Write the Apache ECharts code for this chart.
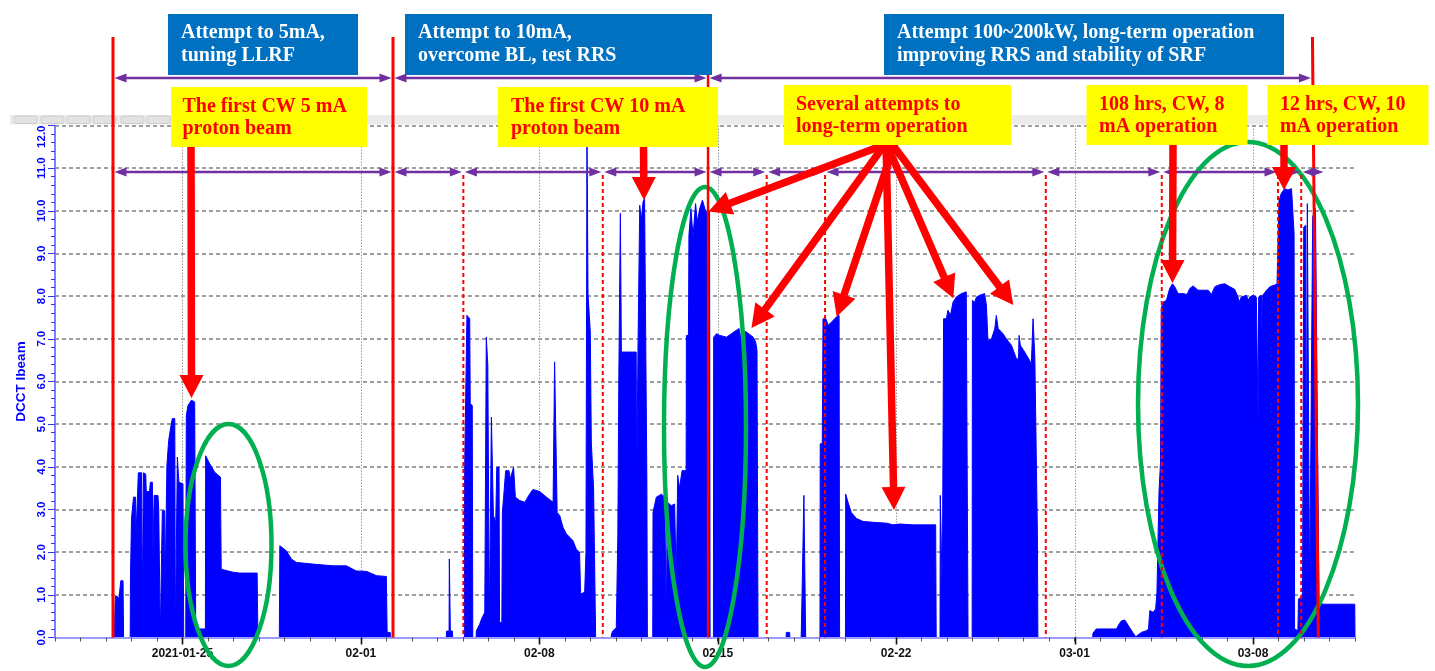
<!DOCTYPE html>
<html>
<head>
<meta charset="utf-8">
<script src="https://cdn.jsdelivr.net/npm/echarts@6/dist/echarts.min.js"></script>
<style>html,body{margin:0;padding:0;background:#fff;}#c{width:1435px;height:671px;}</style>
</head>
<body>
<div id="c"></div>
<script>
// ---------------- DATA (days since 2021-01-20 00:00, DCCT beam current in mA) ----------------
const xTickDays   = [5, 12, 19, 26, 33, 40, 47];
const xTickLabels = ['2021-01-25', '02-01', '02-08', '02-15', '02-22', '03-01', '03-08'];

const runJan22 = [[2.33,0],[2.35,0.65],[2.37,0.98],[2.47,0.95],[2.51,0.90],[2.56,0.92],[2.58,1.33],[2.67,1.33],[2.69,0]];
const runJan23 = [[2.95,0],[2.96,1.37],[2.99,1.37],[3.00,2.78],[3.06,2.78],[3.08,3.29],[3.16,3.29],[3.18,2.39],[3.25,2.39],
  [3.27,3.86],[3.40,3.86],[3.42,0.47],[3.45,0.47],[3.47,3.86],[3.56,3.83],[3.58,3.42],[3.71,3.42],[3.74,3.64],[3.82,3.64],
  [3.84,1.88],[3.87,1.88],[3.89,3.33],[4.04,3.33],[4.07,3.01],[4.12,3.01],[4.13,0],[4.20,0],[4.21,2.97],[4.30,2.97],
  [4.32,1.21],[4.36,1.21],[4.39,4.03],[4.44,4.03],[4.46,4.62],[4.52,4.85],[4.60,5.13],[4.70,5.13],[4.72,0],[4.78,0],
  [4.80,4.23],[4.84,4.23],[4.86,3.64],[5.02,3.60],[5.05,0],[5.13,0],[5.15,5.20],[5.22,5.44],[5.35,5.56],[5.48,5.52],
  [5.52,0.20],[5.90,0.20],[5.91,4.26],[6.07,4.07],[6.27,3.87],[6.49,3.76],[6.52,1.60],[6.98,1.53],[7.25,1.51],[7.93,1.51],[7.96,0]];
const runJan28 = [[8.80,0],[8.82,2.15],[9.08,2.03],[9.27,1.84],[9.47,1.76],[10.12,1.72],[10.91,1.68],[11.43,1.68],[11.82,1.56],
  [12.22,1.55],[12.61,1.45],[13.00,1.43],[13.03,0.12],[13.15,0.12],[13.16,0]];
const runFeb04 = [[15.35,0],[15.36,0.15],[15.46,0.15],[15.47,1.84],[15.50,1.84],[15.51,0.15],[15.59,0.15],[15.60,0]];
const runFeb05 = [[16.06,0],[16.07,3.95],[16.14,3.95],[16.16,7.55],[16.27,7.47],[16.29,5.48],[16.37,5.44],[16.39,0]];
const runFeb05b = [[16.52,0],[16.53,0.16],[16.66,0.31],[16.73,0.43],[16.86,0.59],[16.90,0.59],[16.92,7.04],[16.96,7.04],
  [16.98,6.38],[17.01,3.40],[17.04,0.27],[17.10,0.27],[17.12,5.16],[17.19,5.16],[17.20,2.86],[17.29,2.70],[17.33,3.99],
  [17.42,3.99],[17.44,0.35],[17.53,0.35],[17.55,2.93],[17.60,3.29],[17.68,3.91],[17.81,3.91],[17.86,3.72],[17.99,3.99],
  [18.02,3.99],[18.06,3.29],[18.23,3.21],[18.43,3.17],[18.62,3.36],[18.75,3.47],[19.02,3.42],[19.28,3.29],[19.54,3.17],
  [19.59,3.17],[19.60,6.46],[19.67,6.46],[19.70,2.93],[19.80,2.86],[19.93,2.58],[20.06,2.43],[20.32,2.27],[20.45,2.07],
  [20.58,2.00],[20.62,1.02],[20.78,1.06],[20.83,2.00],[20.86,2.00],[20.87,11.9],[20.89,11.9],[20.91,8.06],[21.00,7.16],
  [21.04,4.58],[21.13,3.48],[21.19,3.48],[21.21,0]];
const runFeb10 = [[21.82,0],[21.83,0.08],[21.89,0.16],[22.02,0.23],[22.08,2.39],[22.12,6.14],[22.16,6.14],[22.18,9.94],
  [22.20,9.94],[22.22,6.69],[22.80,6.69],[22.82,3.40],[22.85,3.40],[22.87,6.73],[22.92,6.73],[22.94,10.13],[22.98,10.13],
  [23.00,9.78],[23.04,9.78],[23.07,10.21],[23.13,10.29],[23.20,10.25],[23.22,3.64],[23.24,0]];
const runFeb12 = [[23.45,0],[23.46,2.93],[23.59,3.29],[23.79,3.36],[23.92,3.29],[23.96,3.29],[23.98,0.35],[24.00,0.35],
  [24.02,3.17],[24.18,3.09],[24.31,3.13],[24.36,3.13],[24.37,1.29],[24.42,1.29],[24.43,3.80],[24.47,3.80],[24.50,3.50],
  [24.60,3.91],[24.76,3.91],[24.77,7.08],[24.85,7.08],[24.87,9.43],[24.95,10.05],[25.03,9.39],[25.13,10.17],[25.20,9.74],
  [25.29,10.05],[25.40,10.25],[25.45,10.21],[25.53,9.98],[25.68,9.98],[25.70,0]];
const runFeb14 = [[25.83,0],[25.84,7.04],[25.95,7.12],[26.08,7.08],[26.34,7.04],[26.54,7.12],[26.73,7.20],[26.84,7.24],
  [26.87,6.96],[26.90,6.96],[26.93,7.20],[27.12,7.16],[27.39,7.04],[27.49,6.92],[27.54,6.73],[27.57,6.73],[27.58,0]];
const runFeb17 = [[28.68,0],[28.69,0.12],[28.75,0.16],[28.82,0.12],[28.83,0]];
const runFeb18 = [[29.27,0],[29.28,0.16],[29.35,0.20],[29.37,0.20],[29.38,3.33],[29.43,3.33],[29.45,0]];
const runFeb19 = [[30.01,0],[30.02,4.54],[30.10,4.54],[30.13,7.47],[30.24,7.47],[30.33,7.32],[30.46,7.39],[30.65,7.51],
  [30.76,7.55],[30.78,0]];
const runFeb20 = [[31.01,0],[31.02,3.36],[31.11,3.17],[31.24,2.93],[31.44,2.79],[31.70,2.72],[32.09,2.70],[32.62,2.68],
  [32.88,2.64],[33.14,2.66],[33.66,2.64],[34.55,2.64],[34.57,0]];
const runFeb23 = [[34.72,0],[34.73,3.33],[34.80,3.33],[34.81,1.0],[34.85,1.0],[34.86,7.47],[34.97,7.47],[35.03,7.67],
  [35.13,7.55],[35.23,7.86],[35.36,7.98],[35.56,8.06],[35.75,8.10],[35.80,8.10],[35.82,0]];
const runFeb24 = [[35.98,0],[35.99,7.90],[36.08,7.86],[36.15,7.98],[36.28,8.02],[36.47,8.06],[36.54,7.79],[36.60,6.96],
  [36.74,7.00],[36.87,7.24],[36.93,7.55],[37.00,7.24],[37.19,7.12],[37.32,7.00],[37.52,6.85],[37.72,6.53],[37.80,6.53],
  [37.82,7.08],[37.87,6.85],[38.04,6.69],[38.24,6.49],[38.30,6.38],[38.36,6.38],[38.37,7.47],[38.42,7.47],[38.44,6.57],
  [38.50,6.57],[38.54,2.46],[38.56,0]];
const runMar01 = [[40.71,0],[40.72,0.10],[40.85,0.20],[41.64,0.20],[41.76,0.33],[41.84,0.39],[41.97,0.41],[42.16,0.23],
  [42.30,0.10],[42.40,0.02],[42.62,0.12],[42.82,0.16],[42.90,0.20],[42.95,0.63],[43.08,0.59],[43.18,0.67],[43.23,1.06],
  [43.31,3.40],[43.37,4.11],[43.40,7.71],[43.47,7.86],[43.60,7.90],[43.73,8.18],[43.84,8.29],[43.93,8.22],[44.06,8.06],
  [44.25,8.06],[44.41,8.04],[44.52,8.18],[44.65,8.24],[44.84,8.14],[45.04,8.14],[45.24,8.14],[45.37,8.04],[45.50,8.22],
  [45.69,8.27],[45.89,8.29],[46.09,8.22],[46.28,8.16],[46.41,7.98],[46.45,7.86],[46.54,7.98],[46.74,8.02],[46.81,7.90],
  [46.87,7.98],[47.00,8.02],[47.13,7.98],[47.18,7.98],[47.20,5.05],[47.22,7.98],[47.33,8.02],[47.36,6.73],[47.38,8.02],
  [47.42,8.06],[47.53,8.14],[47.66,8.22],[47.85,8.26],[47.94,8.29],[48.00,8.29],[48.02,10.25],[48.11,10.41],[48.24,10.52],
  [48.37,10.49],[48.51,10.52],[48.57,10.52],[48.61,9.47],[48.63,0.20],[48.70,0.16],[48.76,0.16],[48.78,0.90],[48.86,0.94],
  [48.94,0.98],[48.97,0.98],[48.99,9.62],[49.07,9.66],[49.08,0.80],[49.12,0.80],[49.13,10.17],[49.20,10.13],[49.22,0.90],
  [49.29,0.90],[49.34,9.86],[49.45,10.05],[49.49,10.05],[49.51,5.83],[49.56,5.83],[49.59,0.82],[49.62,0.78],[49.75,0.78],
  [50.99,0.78],[51.00,0]];

// event lines (days since 2021-01-20)
const phaseLineTopDays    = [2.275, 13.26, 25.62, 49.33];
const phaseLineBottomDays = [2.275, 13.26, 25.62, 49.56];
const eventLineDays = [16.02, 21.49, 27.92, 30.21, 38.87, 43.42, 47.98, 48.89];
const row2EndDay = 49.82;

const phaseTexts = ['Attempt to 5mA,\ntuning LLRF', 'Attempt to 10mA,\novercome BL, test RRS',
  'Attempt 100~200kW, long-term operation\nimproving RRS and stability of SRF'];
const noteTexts = ['The first CW 5 mA\nproton beam', 'The first CW 10 mA\nproton beam', 'Several attempts to\nlong-term operation',
  '108 hrs, CW, 8\nmA operation', '12 hrs, CW, 10\nmA operation'];

// ---------------- CHART ----------------
const runs = [runJan22, runJan23, runJan28, runFeb04, runFeb05, runFeb05b, runFeb10, runFeb12, runFeb14,
  runFeb17, runFeb18, runFeb19, runFeb20, runFeb23, runFeb24, runMar01];
const beamData = [];
runs.forEach(r => { r.forEach(p => beamData.push(p)); beamData.push([r[r.length - 1][0] + 0.001, '-']); });

const chart = echarts.init(document.getElementById('c'), null, {renderer: 'canvas'});
const AX = 'Liberation Sans, Arial, sans-serif';
chart.setOption({
  animation: false,
  backgroundColor: '#ffffff',
  grid: {left: 55, right: 80, top: 125.5, bottom: 33.5, containLabel: false},
  xAxis: {
    type: 'value', min: 0, max: 51, interval: 1, z: 3,
    axisLine: {show: true, onZero: false, lineStyle: {color: '#9a9aff', width: 2}},
    axisTick: {show: true, length: 4, lineStyle: {color: '#555555', width: 1}},
    axisLabel: {
      interval: 0, margin: 10, color: '#111111', fontWeight: 'bold', fontSize: 12, fontFamily: AX,
      formatter: v => { const r = Math.round(v); const i = xTickDays.indexOf(r); return (Math.abs(v - r) < 1e-6 && i >= 0) ? xTickLabels[i] : ''; }
    },
    splitLine: {show: false}
  },
  yAxis: {
    type: 'value', min: 0, max: 12, interval: 1,
    name: 'DCCT Ibeam', nameLocation: 'middle', nameGap: 14,
    nameTextStyle: {color: '#0000ff', fontWeight: 'bold', fontSize: 13.5, fontFamily: AX},
    axisLine: {show: true, lineStyle: {color: '#7f7fff', width: 2}},
    axisTick: {show: true, length: 7, lineStyle: {color: '#3333ff', width: 1}},
    minorTick: {show: true, splitNumber: 5, length: 4, lineStyle: {color: '#3333ff', width: 1}},
    axisLabel: {rotate: 90, margin: 7, color: '#0000ff', fontWeight: 'bold', fontSize: 11.5, fontFamily: AX,
      alignMaxLabel: 'right', formatter: v => v.toFixed(1)},
    splitLine: {show: true, lineStyle: {color: '#808080', width: 1.5, type: [4, 3]}}
  },
  series: [{
    type: 'line', data: beamData, showSymbol: false, symbol: 'none', connectNulls: false, z: 2, silent: true,
    lineStyle: {color: '#0000ff', width: 1}, areaStyle: {color: '#0000ff', opacity: 1}
  }]
});

// ---------------- ANNOTATIONS ----------------
const X = d => chart.convertToPixel({gridIndex: 0}, [d, 0])[0];
const Y = v => chart.convertToPixel({gridIndex: 0}, [0, v])[1];
const base = Y(0), top12 = Y(12);
const el = [];
const RED = '#ff0000', PURPLE = '#7030a0', GREEN = '#00b050', BLUEBOX = '#0070c0', YEL = '#ffff00';
const SERIF = 'bold 20px "Liberation Serif", "Times New Roman", serif';

// weekly dotted gridlines + major ticks
xTickDays.forEach(d => {
  const x = Math.round(X(d)) + 0.5;
  el.push({type: 'line', z: 0, silent: true, shape: {x1: x, y1: top12, x2: x, y2: base}, style: {stroke: '#9a9a9a', lineWidth: 1, lineDash: [1.5, 1.5]}});
  el.push({type: 'line', z: 50, silent: true, shape: {x1: x, y1: base, x2: x, y2: base + 7}, style: {stroke: '#111111', lineWidth: 1.6}});
});

// toolbar strip of the original screenshot
el.push({type: 'rect', z: 4, silent: true, shape: {x: 10, y: 115, width: 1385, height: 9.5}, style: {fill: '#ebebeb'}});
[14, 41, 67, 93, 121, 147].forEach(bx => el.push({type: 'rect', z: 4, silent: true,
  shape: {x: bx, y: 116, width: 23, height: 7.5, r: 2}, style: {fill: '#e2e2e2', stroke: '#cdcdcd', lineWidth: 1}}));

// green ellipses
[[228.5, 545, 43, 121], [705, 427, 41, 240], [1248, 404, 110, 262]].forEach(e => el.push({type: 'ellipse', z: 10, silent: true,
  shape: {cx: e[0], cy: e[1], rx: e[2], ry: e[3]}, style: {fill: 'none', stroke: GREEN, lineWidth: 4.5}}));

// red solid phase lines
const phaseTops = [37, 37, 75, 37];
phaseLineTopDays.forEach((d, i) => el.push({type: 'line', z: 12, silent: true,
  shape: {x1: X(d), y1: phaseTops[i], x2: X(phaseLineBottomDays[i]), y2: base}, style: {stroke: RED, lineWidth: i === 2 ? 2.5 : 3}}));
// red dashed event lines
eventLineDays.forEach(d => el.push({type: 'line', z: 12, silent: true,
  shape: {x1: X(d), y1: 175, x2: X(d), y2: base}, style: {stroke: RED, lineWidth: 2, lineDash: [4, 3]}}));

// purple double arrows
function dArrow(xa, xb, y) {
  const hl = 12, hh = 4.5; xa += 1.5; xb -= 1.5;
  if (xb - xa > 2 * hl) el.push({type: 'line', z: 14, silent: true, shape: {x1: xa + hl - 1, y1: y, x2: xb - hl + 1, y2: y}, style: {stroke: PURPLE, lineWidth: 2.5}});
  el.push({type: 'polygon', z: 14, silent: true, shape: {points: [[xa, y], [xa + hl, y - hh], [xa + hl, y + hh]]}, style: {fill: PURPLE}});
  el.push({type: 'polygon', z: 14, silent: true, shape: {points: [[xb, y], [xb - hl, y - hh], [xb - hl, y + hh]]}, style: {fill: PURPLE}});
}
for (let i = 0; i < phaseLineTopDays.length - 1; i++) dArrow(X(phaseLineTopDays[i]), X(phaseLineTopDays[i + 1]), 78);
const row2 = [phaseLineTopDays[0], phaseLineTopDays[1], eventLineDays[0], eventLineDays[1], phaseLineTopDays[2],
  eventLineDays[2], eventLineDays[3], eventLineDays[4], eventLineDays[5], eventLineDays[6], eventLineDays[7], row2EndDay];
for (let i = 0; i < row2.length - 1; i++) dArrow(X(row2[i]), X(row2[i + 1]), 172);

// red callout arrows
function arrowPts(x1, y1, x2, y2, sw, hw, hl) {
  const dx = x2 - x1, dy = y2 - y1, L = Math.hypot(dx, dy), ux = dx / L, uy = dy / L, px = -uy, py = ux;
  const bx = x2 - ux * hl, by = y2 - uy * hl;
  return [[x1 + px * sw / 2, y1 + py * sw / 2], [bx + px * sw / 2, by + py * sw / 2], [bx + px * hw / 2, by + py * hw / 2], [x2, y2],
    [bx - px * hw / 2, by - py * hw / 2], [bx - px * sw / 2, by - py * sw / 2], [x1 - px * sw / 2, y1 - py * sw / 2]];
}
[[191, 146, 191.5, 398], [643.5, 146, 644, 200],
 [897, 140, 708.5, 211.5], [888, 140, 751.5, 328], [896, 140, 836.7, 316.7], [886, 140, 894, 510], [885, 140, 953.3, 298.3], [889, 140, 1013.3, 305],
 [1173, 144, 1172.5, 283], [1284, 144, 1284, 190]].forEach(a => el.push({type: 'polygon', z: 16, silent: true,
  shape: {points: arrowPts(a[0], a[1], a[2], a[3], 7.5, 24, 23)}, style: {fill: RED}}));

// blue phase boxes
[[168, 14, 190, 61, 181], [405, 14, 307, 61, 418], [884, 14, 400, 61, 897]].forEach((b, i) => {
  el.push({type: 'rect', z: 20, silent: true, shape: {x: b[0], y: b[1], width: b[2], height: b[3]}, style: {fill: BLUEBOX}});
  el.push({type: 'text', z: 21, silent: true, x: b[4], y: b[1] + b[3] / 2, style: {text: phaseTexts[i], fill: '#ffffff', font: SERIF, lineHeight: 23, verticalAlign: 'middle', align: 'left'}});
});
// yellow note boxes
[[171, 87, 196, 60, 182.5], [498, 87, 220, 60, 511], [784, 85, 227, 60, 796], [1086.5, 85, 161, 60, 1099], [1267.5, 85, 161, 60, 1280]].forEach((b, i) => {
  el.push({type: 'rect', z: 20, silent: true, shape: {x: b[0], y: b[1], width: b[2], height: b[3]}, style: {fill: YEL}});
  el.push({type: 'text', z: 21, silent: true, x: b[4], y: b[1] + b[3] / 2 + 1, style: {text: noteTexts[i], fill: RED, font: SERIF, lineHeight: 22.5, verticalAlign: 'middle', align: 'left'}});
});

chart.setOption({graphic: {elements: el}});
</script>
</body>
</html>
